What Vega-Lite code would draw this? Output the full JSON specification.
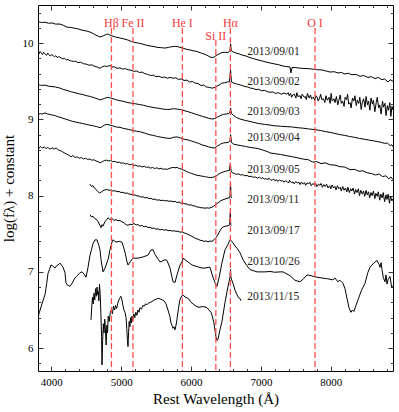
{
"$schema": "https://vega.github.io/schema/vega-lite/v6.json",
"width": 355, "height": 366,
"autosize": "none",
"padding": {"left": 38, "top": 5, "right": 6, "bottom": 41},
"background": "white",
"config": {
 "view": {"stroke": "black", "strokeWidth": 1},
 "font": "Liberation Serif",
 "axis": {"grid": false, "domain": false, "tickColor": "black", "tickWidth": 0.8, "labelColor": "black", "titleColor": "black", "labelFont": "Liberation Serif", "titleFont": "Liberation Serif", "titleFontWeight": "normal", "labelFontSize": 11}
},
"datasets": {
"spec": [
{"s":"0901","x":3810,"y":10.28},{"s":"0901","x":3860,"y":10.27},{"s":"0901","x":3910,"y":10.275},{"s":"0901","x":3960,"y":10.26},{"s":"0901","x":4010,"y":10.265},{"s":"0901","x":4060,"y":10.25},{"s":"0901","x":4125,"y":10.25},{"s":"0901","x":4170,"y":10.235},{"s":"0901","x":4225,"y":10.21},{"s":"0901","x":4280,"y":10.205},{"s":"0901","x":4339,"y":10.195},{"s":"0901","x":4390,"y":10.185},{"s":"0901","x":4440,"y":10.17},{"s":"0901","x":4500,"y":10.16},{"s":"0901","x":4554,"y":10.145},{"s":"0901","x":4600,"y":10.125},{"s":"0901","x":4640,"y":10.105},{"s":"0901","x":4697,"y":10.08},{"s":"0901","x":4730,"y":10.09},{"s":"0901","x":4754,"y":10.1},{"s":"0901","x":4790,"y":10.115},{"s":"0901","x":4812,"y":10.12},{"s":"0901","x":4840,"y":10.105},{"s":"0901","x":4869,"y":10.095},{"s":"0901","x":4920,"y":10.08},{"s":"0901","x":4983,"y":10.067},{"s":"0901","x":5040,"y":10.055},{"s":"0901","x":5098,"y":10.04},{"s":"0901","x":5150,"y":10.02},{"s":"0901","x":5198,"y":10.008},{"s":"0901","x":5250,"y":10.0},{"s":"0901","x":5298,"y":9.99},{"s":"0901","x":5350,"y":9.975},{"s":"0901","x":5413,"y":9.963},{"s":"0901","x":5470,"y":9.955},{"s":"0901","x":5527,"y":9.943},{"s":"0901","x":5580,"y":9.94},{"s":"0901","x":5627,"y":9.935},{"s":"0901","x":5680,"y":9.945},{"s":"0901","x":5720,"y":9.952},{"s":"0901","x":5760,"y":9.957},{"s":"0901","x":5799,"y":9.956},{"s":"0901","x":5840,"y":9.945},{"s":"0901","x":5885,"y":9.935},{"s":"0901","x":5930,"y":9.92},{"s":"0901","x":5985,"y":9.91},{"s":"0901","x":6030,"y":9.9},{"s":"0901","x":6085,"y":9.89},{"s":"0901","x":6140,"y":9.872},{"s":"0901","x":6186,"y":9.857},{"s":"0901","x":6230,"y":9.84},{"s":"0901","x":6271,"y":9.818},{"s":"0901","x":6314,"y":9.81},{"s":"0901","x":6340,"y":9.825},{"s":"0901","x":6371,"y":9.844},{"s":"0901","x":6410,"y":9.862},{"s":"0901","x":6443,"y":9.877},{"s":"0901","x":6490,"y":9.88},{"s":"0901","x":6529,"y":9.877},{"s":"0901","x":6557,"y":9.9},{"s":"0901","x":6566,"y":9.99},{"s":"0901","x":6576,"y":9.9},{"s":"0901","x":6600,"y":9.885},{"s":"0901","x":6643,"y":9.87},{"s":"0901","x":6690,"y":9.858},{"s":"0901","x":6729,"y":9.844},{"s":"0901","x":6790,"y":9.83},{"s":"0901","x":6844,"y":9.81},{"s":"0901","x":6900,"y":9.795},{"s":"0901","x":6958,"y":9.779},{"s":"0901","x":7010,"y":9.768},{"s":"0901","x":7073,"y":9.752},{"s":"0901","x":7130,"y":9.74},{"s":"0901","x":7201,"y":9.726},{"s":"0901","x":7250,"y":9.718},{"s":"0901","x":7316,"y":9.7},{"s":"0901","x":7370,"y":9.692},{"s":"0901","x":7416,"y":9.687},{"s":"0901","x":7430,"y":9.61},{"s":"0901","x":7445,"y":9.68},{"s":"0901","x":7490,"y":9.68},{"s":"0901","x":7531,"y":9.674},{"s":"0901","x":7580,"y":9.67},{"s":"0901","x":7631,"y":9.667},{"s":"0901","x":7700,"y":9.664},{"s":"0901","x":7774,"y":9.654},{"s":"0901","x":7820,"y":9.651},{"s":"0901","x":7874,"y":9.648},{"s":"0901","x":7930,"y":9.635},{"s":"0901","x":7988,"y":9.621},{"s":"0901","x":8050,"y":9.625},{"s":"0901","x":8103,"y":9.608},{"s":"0901","x":8150,"y":9.615},{"s":"0901","x":8203,"y":9.595},{"s":"0901","x":8250,"y":9.605},{"s":"0901","x":8303,"y":9.585},{"s":"0901","x":8360,"y":9.59},{"s":"0901","x":8418,"y":9.565},{"s":"0901","x":8470,"y":9.575},{"s":"0901","x":8532,"y":9.55},{"s":"0901","x":8580,"y":9.56},{"s":"0901","x":8632,"y":9.535},{"s":"0901","x":8680,"y":9.55},{"s":"0901","x":8733,"y":9.52},{"s":"0901","x":8770,"y":9.53},{"s":"0901","x":8818,"y":9.49},{"s":"0901","x":8850,"y":9.52},{"s":"0901","x":8890,"y":9.5},
{"s":"0902","x":3810,"y":9.9},{"s":"0902","x":3825,"y":9.86},{"s":"0902","x":3840,"y":9.89},{"s":"0902","x":3860,"y":9.87},{"s":"0902","x":3875,"y":9.85},{"s":"0902","x":3890,"y":9.88},{"s":"0902","x":3910,"y":9.86},{"s":"0902","x":3930,"y":9.84},{"s":"0902","x":3950,"y":9.87},{"s":"0902","x":3965,"y":9.85},{"s":"0902","x":3985,"y":9.83},{"s":"0902","x":4005,"y":9.85},{"s":"0902","x":4025,"y":9.84},{"s":"0902","x":4045,"y":9.82},{"s":"0902","x":4065,"y":9.835},{"s":"0902","x":4085,"y":9.81},{"s":"0902","x":4105,"y":9.825},{"s":"0902","x":4125,"y":9.815},{"s":"0902","x":4150,"y":9.8},{"s":"0902","x":4170,"y":9.795},{"s":"0902","x":4190,"y":9.8},{"s":"0902","x":4215,"y":9.78},{"s":"0902","x":4240,"y":9.785},{"s":"0902","x":4265,"y":9.77},{"s":"0902","x":4290,"y":9.765},{"s":"0902","x":4320,"y":9.76},{"s":"0902","x":4340,"y":9.765},{"s":"0902","x":4380,"y":9.745},{"s":"0902","x":4420,"y":9.75},{"s":"0902","x":4460,"y":9.73},{"s":"0902","x":4500,"y":9.725},{"s":"0902","x":4540,"y":9.71},{"s":"0902","x":4580,"y":9.715},{"s":"0902","x":4620,"y":9.695},{"s":"0902","x":4660,"y":9.685},{"s":"0902","x":4697,"y":9.67},{"s":"0902","x":4730,"y":9.69},{"s":"0902","x":4760,"y":9.7},{"s":"0902","x":4800,"y":9.695},{"s":"0902","x":4840,"y":9.705},{"s":"0902","x":4869,"y":9.685},{"s":"0902","x":4900,"y":9.69},{"s":"0902","x":4940,"y":9.67},{"s":"0902","x":4983,"y":9.675},{"s":"0902","x":5020,"y":9.66},{"s":"0902","x":5060,"y":9.665},{"s":"0902","x":5100,"y":9.65},{"s":"0902","x":5140,"y":9.645},{"s":"0902","x":5180,"y":9.63},{"s":"0902","x":5220,"y":9.635},{"s":"0902","x":5260,"y":9.615},{"s":"0902","x":5300,"y":9.62},{"s":"0902","x":5340,"y":9.6},{"s":"0902","x":5380,"y":9.59},{"s":"0902","x":5420,"y":9.575},{"s":"0902","x":5460,"y":9.58},{"s":"0902","x":5500,"y":9.56},{"s":"0902","x":5540,"y":9.565},{"s":"0902","x":5580,"y":9.55},{"s":"0902","x":5620,"y":9.555},{"s":"0902","x":5660,"y":9.54},{"s":"0902","x":5700,"y":9.55},{"s":"0902","x":5740,"y":9.54},{"s":"0902","x":5780,"y":9.545},{"s":"0902","x":5820,"y":9.525},{"s":"0902","x":5860,"y":9.53},{"s":"0902","x":5900,"y":9.51},{"s":"0902","x":5940,"y":9.515},{"s":"0902","x":5980,"y":9.49},{"s":"0902","x":6020,"y":9.495},{"s":"0902","x":6060,"y":9.475},{"s":"0902","x":6100,"y":9.47},{"s":"0902","x":6140,"y":9.445},{"s":"0902","x":6180,"y":9.45},{"s":"0902","x":6220,"y":9.425},{"s":"0902","x":6260,"y":9.42},{"s":"0902","x":6300,"y":9.41},{"s":"0902","x":6330,"y":9.415},{"s":"0902","x":6360,"y":9.43},{"s":"0902","x":6400,"y":9.45},{"s":"0902","x":6440,"y":9.475},{"s":"0902","x":6480,"y":9.48},{"s":"0902","x":6520,"y":9.49},{"s":"0902","x":6550,"y":9.495},{"s":"0902","x":6565,"y":9.65},{"s":"0902","x":6578,"y":9.49},{"s":"0902","x":6610,"y":9.475},{"s":"0902","x":6650,"y":9.465},{"s":"0902","x":6690,"y":9.455},{"s":"0902","x":6730,"y":9.445},{"s":"0902","x":6770,"y":9.43},{"s":"0902","x":6810,"y":9.425},{"s":"0902","x":6850,"y":9.41},{"s":"0902","x":6890,"y":9.405},{"s":"0902","x":6930,"y":9.39},{"s":"0902","x":6970,"y":9.395},{"s":"0902","x":7010,"y":9.375},{"s":"0902","x":7050,"y":9.38},{"s":"0902","x":7090,"y":9.365},{"s":"0902","x":7130,"y":9.355},{"s":"0902","x":7170,"y":9.36},{"s":"0902","x":7210,"y":9.34},{"s":"0902","x":7250,"y":9.35},{"s":"0902","x":7290,"y":9.33},{"s":"0902","x":7330,"y":9.345},
{"s":"0902","x":7370,"y":9.33},{"s":"0902","x":7390,"y":9.35},{"s":"0902","x":7405,"y":9.31},{"s":"0902","x":7425,"y":9.34},{"s":"0902","x":7440,"y":9.29},{"s":"0902","x":7455,"y":9.32},{"s":"0902","x":7480,"y":9.33},{"s":"0902","x":7500,"y":9.28},{"s":"0902","x":7515,"y":9.35},{"s":"0902","x":7530,"y":9.3},{"s":"0902","x":7560,"y":9.31},{"s":"0902","x":7575,"y":9.27},{"s":"0902","x":7590,"y":9.33},{"s":"0902","x":7620,"y":9.29},{"s":"0902","x":7635,"y":9.3},{"s":"0902","x":7650,"y":9.26},{"s":"0902","x":7665,"y":9.34},{"s":"0902","x":7690,"y":9.28},{"s":"0902","x":7710,"y":9.32},{"s":"0902","x":7725,"y":9.27},{"s":"0902","x":7750,"y":9.29},{"s":"0902","x":7770,"y":9.25},{"s":"0902","x":7785,"y":9.31},{"s":"0902","x":7800,"y":9.3},{"s":"0902","x":7820,"y":9.24},{"s":"0902","x":7840,"y":9.28},{"s":"0902","x":7855,"y":9.33},{"s":"0902","x":7870,"y":9.26},{"s":"0902","x":7895,"y":9.27},{"s":"0902","x":7915,"y":9.22},{"s":"0902","x":7930,"y":9.31},{"s":"0902","x":7950,"y":9.25},{"s":"0902","x":7975,"y":9.29},{"s":"0902","x":7990,"y":9.21},{"s":"0902","x":8005,"y":9.34},{"s":"0902","x":8020,"y":9.24},{"s":"0902","x":8045,"y":9.27},{"s":"0902","x":8060,"y":9.22},{"s":"0902","x":8080,"y":9.3},{"s":"0902","x":8100,"y":9.19},{"s":"0902","x":8115,"y":9.25},{"s":"0902","x":8135,"y":9.32},{"s":"0902","x":8150,"y":9.21},{"s":"0902","x":8170,"y":9.24},{"s":"0902","x":8190,"y":9.17},{"s":"0902","x":8205,"y":9.29},{"s":"0902","x":8225,"y":9.26},{"s":"0902","x":8240,"y":9.33},{"s":"0902","x":8255,"y":9.2},{"s":"0902","x":8275,"y":9.22},{"s":"0902","x":8290,"y":9.15},{"s":"0902","x":8310,"y":9.28},{"s":"0902","x":8330,"y":9.24},{"s":"0902","x":8345,"y":9.31},{"s":"0902","x":8365,"y":9.18},{"s":"0902","x":8380,"y":9.25},{"s":"0902","x":8400,"y":9.21},{"s":"0902","x":8415,"y":9.29},{"s":"0902","x":8435,"y":9.13},{"s":"0902","x":8450,"y":9.22},{"s":"0902","x":8470,"y":9.27},{"s":"0902","x":8490,"y":9.16},{"s":"0902","x":8505,"y":9.3},{"s":"0902","x":8525,"y":9.19},{"s":"0902","x":8540,"y":9.24},{"s":"0902","x":8560,"y":9.12},{"s":"0902","x":8575,"y":9.28},{"s":"0902","x":8595,"y":9.2},{"s":"0902","x":8610,"y":9.25},{"s":"0902","x":8630,"y":9.1},{"s":"0902","x":8650,"y":9.22},{"s":"0902","x":8665,"y":9.29},{"s":"0902","x":8685,"y":9.15},{"s":"0902","x":8700,"y":9.19},{"s":"0902","x":8720,"y":9.07},{"s":"0902","x":8740,"y":9.24},{"s":"0902","x":8755,"y":9.16},{"s":"0902","x":8775,"y":9.21},{"s":"0902","x":8790,"y":9.05},{"s":"0902","x":8810,"y":9.18},{"s":"0902","x":8825,"y":9.12},{"s":"0902","x":8845,"y":9.22},{"s":"0902","x":8860,"y":9.04},{"s":"0902","x":8875,"y":9.17},{"s":"0902","x":8890,"y":9.12},
{"s":"0903","x":3810,"y":9.455},{"s":"0903","x":3860,"y":9.445},{"s":"0903","x":3910,"y":9.45},{"s":"0903","x":3960,"y":9.435},{"s":"0903","x":4010,"y":9.43},{"s":"0903","x":4060,"y":9.425},{"s":"0903","x":4125,"y":9.41},{"s":"0903","x":4180,"y":9.39},{"s":"0903","x":4225,"y":9.38},{"s":"0903","x":4290,"y":9.36},{"s":"0903","x":4340,"y":9.35},{"s":"0903","x":4400,"y":9.335},{"s":"0903","x":4450,"y":9.325},{"s":"0903","x":4510,"y":9.31},{"s":"0903","x":4560,"y":9.3},{"s":"0903","x":4610,"y":9.285},{"s":"0903","x":4660,"y":9.27},{"s":"0903","x":4697,"y":9.255},{"s":"0903","x":4730,"y":9.265},{"s":"0903","x":4760,"y":9.275},{"s":"0903","x":4800,"y":9.287},{"s":"0903","x":4830,"y":9.285},{"s":"0903","x":4869,"y":9.275},{"s":"0903","x":4920,"y":9.26},{"s":"0903","x":4983,"y":9.245},{"s":"0903","x":5040,"y":9.235},{"s":"0903","x":5098,"y":9.22},{"s":"0903","x":5150,"y":9.212},{"s":"0903","x":5200,"y":9.205},{"s":"0903","x":5260,"y":9.195},{"s":"0903","x":5320,"y":9.185},{"s":"0903","x":5380,"y":9.17},{"s":"0903","x":5440,"y":9.16},{"s":"0903","x":5484,"y":9.152},{"s":"0903","x":5540,"y":9.145},{"s":"0903","x":5600,"y":9.135},{"s":"0903","x":5650,"y":9.13},{"s":"0903","x":5700,"y":9.132},{"s":"0903","x":5750,"y":9.14},{"s":"0903","x":5800,"y":9.135},{"s":"0903","x":5850,"y":9.128},{"s":"0903","x":5900,"y":9.115},{"s":"0903","x":5960,"y":9.1},{"s":"0903","x":6010,"y":9.085},{"s":"0903","x":6060,"y":9.07},{"s":"0903","x":6110,"y":9.055},{"s":"0903","x":6160,"y":9.04},{"s":"0903","x":6200,"y":9.03},{"s":"0903","x":6250,"y":9.015},{"s":"0903","x":6300,"y":9.005},{"s":"0903","x":6340,"y":9.01},{"s":"0903","x":6380,"y":9.03},{"s":"0903","x":6420,"y":9.05},{"s":"0903","x":6460,"y":9.065},{"s":"0903","x":6500,"y":9.07},{"s":"0903","x":6540,"y":9.075},{"s":"0903","x":6558,"y":9.1},{"s":"0903","x":6566,"y":9.15},{"s":"0903","x":6576,"y":9.08},{"s":"0903","x":6610,"y":9.05},{"s":"0903","x":6650,"y":9.025},{"s":"0903","x":6700,"y":9.005},{"s":"0903","x":6760,"y":8.99},{"s":"0903","x":6830,"y":8.975},{"s":"0903","x":6900,"y":8.96},{"s":"0903","x":6970,"y":8.945},{"s":"0903","x":7050,"y":8.935},{"s":"0903","x":7130,"y":8.925},{"s":"0903","x":7200,"y":8.915},{"s":"0903","x":7280,"y":8.91},{"s":"0903","x":7360,"y":8.905},{"s":"0903","x":7450,"y":8.9},{"s":"0903","x":7530,"y":8.89},{"s":"0903","x":7600,"y":8.885},{"s":"0903","x":7680,"y":8.875},{"s":"0903","x":7774,"y":8.865},{"s":"0903","x":7850,"y":8.855},{"s":"0903","x":7920,"y":8.84},{"s":"0903","x":7990,"y":8.83},{"s":"0903","x":8060,"y":8.815},{"s":"0903","x":8130,"y":8.8},{"s":"0903","x":8200,"y":8.79},{"s":"0903","x":8270,"y":8.775},{"s":"0903","x":8340,"y":8.765},{"s":"0903","x":8410,"y":8.75},{"s":"0903","x":8480,"y":8.74},{"s":"0903","x":8540,"y":8.73},{"s":"0903","x":8600,"y":8.72},{"s":"0903","x":8660,"y":8.71},{"s":"0903","x":8720,"y":8.7},{"s":"0903","x":8770,"y":8.685},{"s":"0903","x":8810,"y":8.69},{"s":"0903","x":8850,"y":8.655},{"s":"0903","x":8870,"y":8.67},{"s":"0903","x":8890,"y":8.64},
{"s":"0904","x":3810,"y":9.06},{"s":"0904","x":3840,"y":9.075},{"s":"0904","x":3870,"y":9.07},{"s":"0904","x":3910,"y":9.085},{"s":"0904","x":3950,"y":9.07},{"s":"0904","x":4000,"y":9.06},{"s":"0904","x":4050,"y":9.05},{"s":"0904","x":4096,"y":9.035},{"s":"0904","x":4150,"y":9.02},{"s":"0904","x":4200,"y":9.005},{"s":"0904","x":4250,"y":8.99},{"s":"0904","x":4300,"y":8.975},{"s":"0904","x":4350,"y":8.965},{"s":"0904","x":4400,"y":8.955},{"s":"0904","x":4450,"y":8.945},{"s":"0904","x":4500,"y":8.935},{"s":"0904","x":4550,"y":8.925},{"s":"0904","x":4600,"y":8.915},{"s":"0904","x":4650,"y":8.905},{"s":"0904","x":4697,"y":8.89},{"s":"0904","x":4730,"y":8.905},{"s":"0904","x":4760,"y":8.925},{"s":"0904","x":4800,"y":8.935},{"s":"0904","x":4840,"y":8.925},{"s":"0904","x":4880,"y":8.915},{"s":"0904","x":4930,"y":8.9},{"s":"0904","x":4983,"y":8.895},{"s":"0904","x":5040,"y":8.88},{"s":"0904","x":5100,"y":8.87},{"s":"0904","x":5160,"y":8.855},{"s":"0904","x":5220,"y":8.845},{"s":"0904","x":5280,"y":8.835},{"s":"0904","x":5340,"y":8.82},{"s":"0904","x":5400,"y":8.8},{"s":"0904","x":5460,"y":8.79},{"s":"0904","x":5520,"y":8.775},{"s":"0904","x":5580,"y":8.765},{"s":"0904","x":5640,"y":8.755},{"s":"0904","x":5700,"y":8.75},{"s":"0904","x":5750,"y":8.765},{"s":"0904","x":5800,"y":8.77},{"s":"0904","x":5850,"y":8.755},{"s":"0904","x":5900,"y":8.74},{"s":"0904","x":5957,"y":8.73},{"s":"0904","x":6010,"y":8.715},{"s":"0904","x":6060,"y":8.7},{"s":"0904","x":6110,"y":8.685},{"s":"0904","x":6157,"y":8.665},{"s":"0904","x":6200,"y":8.655},{"s":"0904","x":6250,"y":8.64},{"s":"0904","x":6300,"y":8.628},{"s":"0904","x":6330,"y":8.625},{"s":"0904","x":6370,"y":8.645},{"s":"0904","x":6420,"y":8.675},{"s":"0904","x":6460,"y":8.69},{"s":"0904","x":6500,"y":8.695},{"s":"0904","x":6540,"y":8.7},{"s":"0904","x":6558,"y":8.72},{"s":"0904","x":6566,"y":8.8},{"s":"0904","x":6578,"y":8.7},{"s":"0904","x":6610,"y":8.675},{"s":"0904","x":6658,"y":8.665},{"s":"0904","x":6720,"y":8.655},{"s":"0904","x":6780,"y":8.645},{"s":"0904","x":6860,"y":8.63},{"s":"0904","x":6944,"y":8.62},{"s":"0904","x":7020,"y":8.6},{"s":"0904","x":7100,"y":8.575},{"s":"0904","x":7130,"y":8.56},{"s":"0904","x":7200,"y":8.55},{"s":"0904","x":7280,"y":8.54},{"s":"0904","x":7360,"y":8.525},{"s":"0904","x":7450,"y":8.51},{"s":"0904","x":7530,"y":8.495},{"s":"0904","x":7600,"y":8.48},{"s":"0904","x":7680,"y":8.47},{"s":"0904","x":7740,"y":8.44},{"s":"0904","x":7800,"y":8.445},{"s":"0904","x":7860,"y":8.42},{"s":"0904","x":7920,"y":8.43},{"s":"0904","x":7990,"y":8.405},{"s":"0904","x":8060,"y":8.4},{"s":"0904","x":8130,"y":8.38},{"s":"0904","x":8200,"y":8.375},{"s":"0904","x":8275,"y":8.34},{"s":"0904","x":8340,"y":8.345},{"s":"0904","x":8400,"y":8.32},{"s":"0904","x":8460,"y":8.325},{"s":"0904","x":8520,"y":8.3},{"s":"0904","x":8580,"y":8.29},{"s":"0904","x":8640,"y":8.27},{"s":"0904","x":8690,"y":8.285},{"s":"0904","x":8740,"y":8.25},{"s":"0904","x":8790,"y":8.26},{"s":"0904","x":8830,"y":8.22},{"s":"0904","x":8860,"y":8.245},{"s":"0904","x":8890,"y":8.21},
{"s":"0905","x":3810,"y":8.64},{"s":"0905","x":3825,"y":8.62},{"s":"0905","x":3845,"y":8.645},{"s":"0905","x":3860,"y":8.63},{"s":"0905","x":3880,"y":8.625},{"s":"0905","x":3900,"y":8.64},{"s":"0905","x":3925,"y":8.615},{"s":"0905","x":3950,"y":8.635},{"s":"0905","x":3965,"y":8.62},{"s":"0905","x":3990,"y":8.61},{"s":"0905","x":4010,"y":8.63},{"s":"0905","x":4040,"y":8.61},{"s":"0905","x":4070,"y":8.625},{"s":"0905","x":4100,"y":8.6},{"s":"0905","x":4130,"y":8.59},{"s":"0905","x":4160,"y":8.575},{"s":"0905","x":4190,"y":8.56},{"s":"0905","x":4220,"y":8.545},{"s":"0905","x":4250,"y":8.53},{"s":"0905","x":4280,"y":8.51},{"s":"0905","x":4310,"y":8.525},{"s":"0905","x":4340,"y":8.5},{"s":"0905","x":4370,"y":8.51},{"s":"0905","x":4400,"y":8.49},{"s":"0905","x":4430,"y":8.5},{"s":"0905","x":4460,"y":8.48},{"s":"0905","x":4490,"y":8.49},{"s":"0905","x":4520,"y":8.475},{"s":"0905","x":4550,"y":8.48},{"s":"0905","x":4580,"y":8.465},{"s":"0905","x":4610,"y":8.47},{"s":"0905","x":4640,"y":8.455},{"s":"0905","x":4670,"y":8.445},{"s":"0905","x":4700,"y":8.43},{"s":"0905","x":4730,"y":8.445},{"s":"0905","x":4760,"y":8.46},{"s":"0905","x":4790,"y":8.465},{"s":"0905","x":4820,"y":8.455},{"s":"0905","x":4850,"y":8.46},{"s":"0905","x":4880,"y":8.445},{"s":"0905","x":4910,"y":8.45},{"s":"0905","x":4940,"y":8.435},{"s":"0905","x":4970,"y":8.44},{"s":"0905","x":5000,"y":8.425},{"s":"0905","x":5030,"y":8.43},{"s":"0905","x":5060,"y":8.415},{"s":"0905","x":5090,"y":8.42},{"s":"0905","x":5120,"y":8.405},{"s":"0905","x":5150,"y":8.41},{"s":"0905","x":5180,"y":8.395},{"s":"0905","x":5210,"y":8.4},{"s":"0905","x":5240,"y":8.385},{"s":"0905","x":5270,"y":8.39},{"s":"0905","x":5300,"y":8.375},{"s":"0905","x":5330,"y":8.385},{"s":"0905","x":5360,"y":8.37},{"s":"0905","x":5390,"y":8.375},{"s":"0905","x":5420,"y":8.36},{"s":"0905","x":5450,"y":8.37},{"s":"0905","x":5480,"y":8.355},{"s":"0905","x":5510,"y":8.365},{"s":"0905","x":5540,"y":8.35},{"s":"0905","x":5570,"y":8.36},{"s":"0905","x":5600,"y":8.345},{"s":"0905","x":5630,"y":8.35},{"s":"0905","x":5660,"y":8.345},{"s":"0905","x":5700,"y":8.36},{"s":"0905","x":5740,"y":8.37},{"s":"0905","x":5770,"y":8.365},{"s":"0905","x":5800,"y":8.37},{"s":"0905","x":5830,"y":8.355},{"s":"0905","x":5860,"y":8.35},{"s":"0905","x":5890,"y":8.335},{"s":"0905","x":5920,"y":8.325},{"s":"0905","x":5950,"y":8.31},{"s":"0905","x":5980,"y":8.3},{"s":"0905","x":6010,"y":8.29},{"s":"0905","x":6040,"y":8.28},{"s":"0905","x":6070,"y":8.27},{"s":"0905","x":6100,"y":8.265},{"s":"0905","x":6130,"y":8.26},{"s":"0905","x":6160,"y":8.255},{"s":"0905","x":6190,"y":8.25},{"s":"0905","x":6220,"y":8.245},{"s":"0905","x":6250,"y":8.24},{"s":"0905","x":6280,"y":8.235},{"s":"0905","x":6310,"y":8.24},{"s":"0905","x":6340,"y":8.25},{"s":"0905","x":6370,"y":8.265},{"s":"0905","x":6400,"y":8.285},{"s":"0905","x":6430,"y":8.3},{"s":"0905","x":6460,"y":8.31},{"s":"0905","x":6490,"y":8.32},{"s":"0905","x":6520,"y":8.325},{"s":"0905","x":6550,"y":8.33},{"s":"0905","x":6563,"y":8.43},{"s":"0905","x":6572,"y":8.33},{"s":"0905","x":6590,"y":8.3},{"s":"0905","x":6620,"y":8.29},{"s":"0905","x":6650,"y":8.28},{"s":"0905","x":6680,"y":8.285},{"s":"0905","x":6710,"y":8.27},{"s":"0905","x":6740,"y":8.275},{"s":"0905","x":6770,"y":8.26},{"s":"0905","x":6800,"y":8.265},{"s":"0905","x":6830,"y":8.25},{"s":"0905","x":6860,"y":8.255},{"s":"0905","x":6890,"y":8.24},{"s":"0905","x":6920,"y":8.245},{"s":"0905","x":6950,"y":8.23},{"s":"0905","x":6980,"y":8.24},
{"s":"0905","x":7010,"y":8.225},{"s":"0905","x":7030,"y":8.235},{"s":"0905","x":7050,"y":8.215},{"s":"0905","x":7075,"y":8.225},{"s":"0905","x":7095,"y":8.205},{"s":"0905","x":7110,"y":8.23},{"s":"0905","x":7135,"y":8.21},{"s":"0905","x":7160,"y":8.2},{"s":"0905","x":7180,"y":8.22},{"s":"0905","x":7200,"y":8.195},{"s":"0905","x":7225,"y":8.21},{"s":"0905","x":7240,"y":8.185},{"s":"0905","x":7265,"y":8.205},{"s":"0905","x":7290,"y":8.19},{"s":"0905","x":7310,"y":8.2},{"s":"0905","x":7330,"y":8.175},{"s":"0905","x":7350,"y":8.195},{"s":"0905","x":7375,"y":8.185},{"s":"0905","x":7395,"y":8.165},{"s":"0905","x":7410,"y":8.2},{"s":"0905","x":7435,"y":8.17},{"s":"0905","x":7460,"y":8.18},{"s":"0905","x":7475,"y":8.155},{"s":"0905","x":7500,"y":8.185},{"s":"0905","x":7520,"y":8.165},{"s":"0905","x":7545,"y":8.175},{"s":"0905","x":7560,"y":8.145},{"s":"0905","x":7580,"y":8.18},{"s":"0905","x":7605,"y":8.15},{"s":"0905","x":7625,"y":8.17},{"s":"0905","x":7640,"y":8.135},{"s":"0905","x":7660,"y":8.165},{"s":"0905","x":7685,"y":8.155},{"s":"0905","x":7700,"y":8.175},{"s":"0905","x":7720,"y":8.13},{"s":"0905","x":7745,"y":8.16},{"s":"0905","x":7765,"y":8.14},{"s":"0905","x":7780,"y":8.165},{"s":"0905","x":7800,"y":8.12},{"s":"0905","x":7825,"y":8.15},{"s":"0905","x":7845,"y":8.135},{"s":"0905","x":7860,"y":8.16},{"s":"0905","x":7880,"y":8.11},{"s":"0905","x":7900,"y":8.145},{"s":"0905","x":7920,"y":8.12},{"s":"0905","x":7940,"y":8.15},{"s":"0905","x":7960,"y":8.1},{"s":"0905","x":7985,"y":8.13},{"s":"0905","x":8000,"y":8.09},{"s":"0905","x":8020,"y":8.14},{"s":"0905","x":8040,"y":8.1},{"s":"0905","x":8060,"y":8.12},{"s":"0905","x":8075,"y":8.075},{"s":"0905","x":8095,"y":8.13},{"s":"0905","x":8115,"y":8.09},{"s":"0905","x":8135,"y":8.11},{"s":"0905","x":8150,"y":8.06},{"s":"0905","x":8170,"y":8.12},{"s":"0905","x":8190,"y":8.07},{"s":"0905","x":8210,"y":8.1},{"s":"0905","x":8230,"y":8.05},{"s":"0905","x":8245,"y":8.11},{"s":"0905","x":8265,"y":8.04},{"s":"0905","x":8285,"y":8.09},{"s":"0905","x":8300,"y":8.06},{"s":"0905","x":8320,"y":8.1},{"s":"0905","x":8340,"y":8.02},{"s":"0905","x":8355,"y":8.08},{"s":"0905","x":8375,"y":8.04},{"s":"0905","x":8395,"y":8.09},{"s":"0905","x":8410,"y":8.0},{"s":"0905","x":8430,"y":8.07},{"s":"0905","x":8450,"y":8.02},{"s":"0905","x":8470,"y":8.06},{"s":"0905","x":8485,"y":7.99},{"s":"0905","x":8505,"y":8.07},{"s":"0905","x":8520,"y":8.01},{"s":"0905","x":8540,"y":8.05},{"s":"0905","x":8555,"y":7.97},{"s":"0905","x":8575,"y":8.04},{"s":"0905","x":8590,"y":8.0},{"s":"0905","x":8610,"y":8.06},{"s":"0905","x":8630,"y":7.96},{"s":"0905","x":8645,"y":8.03},{"s":"0905","x":8665,"y":7.99},{"s":"0905","x":8680,"y":8.05},{"s":"0905","x":8700,"y":7.94},{"s":"0905","x":8715,"y":8.02},{"s":"0905","x":8735,"y":7.97},{"s":"0905","x":8750,"y":8.04},{"s":"0905","x":8770,"y":7.92},{"s":"0905","x":8790,"y":8.01},{"s":"0905","x":8805,"y":7.95},{"s":"0905","x":8820,"y":8.02},{"s":"0905","x":8840,"y":7.9},{"s":"0905","x":8855,"y":7.99},{"s":"0905","x":8875,"y":7.93},{"s":"0905","x":8890,"y":7.96},
{"s":"0911","x":4554,"y":8.15},{"s":"0911","x":4575,"y":8.12},{"s":"0911","x":4597,"y":8.13},{"s":"0911","x":4620,"y":8.1},{"s":"0911","x":4645,"y":8.075},{"s":"0911","x":4669,"y":8.05},{"s":"0911","x":4690,"y":8.035},{"s":"0911","x":4712,"y":8.045},{"s":"0911","x":4740,"y":8.065},{"s":"0911","x":4769,"y":8.075},{"s":"0911","x":4797,"y":8.08},{"s":"0911","x":4826,"y":8.07},{"s":"0911","x":4855,"y":8.075},{"s":"0911","x":4883,"y":8.06},{"s":"0911","x":4912,"y":8.065},{"s":"0911","x":4940,"y":8.05},{"s":"0911","x":4969,"y":8.055},{"s":"0911","x":4998,"y":8.04},{"s":"0911","x":5026,"y":8.045},{"s":"0911","x":5055,"y":8.03},{"s":"0911","x":5084,"y":8.035},{"s":"0911","x":5112,"y":8.02},{"s":"0911","x":5141,"y":8.02},{"s":"0911","x":5169,"y":8.005},{"s":"0911","x":5198,"y":8.01},{"s":"0911","x":5227,"y":7.995},{"s":"0911","x":5255,"y":7.995},{"s":"0911","x":5284,"y":7.98},{"s":"0911","x":5313,"y":7.985},{"s":"0911","x":5341,"y":7.97},{"s":"0911","x":5370,"y":7.975},{"s":"0911","x":5400,"y":7.96},{"s":"0911","x":5427,"y":7.965},{"s":"0911","x":5456,"y":7.95},{"s":"0911","x":5484,"y":7.955},{"s":"0911","x":5513,"y":7.94},{"s":"0911","x":5541,"y":7.945},{"s":"0911","x":5570,"y":7.935},{"s":"0911","x":5598,"y":7.94},{"s":"0911","x":5627,"y":7.93},{"s":"0911","x":5656,"y":7.935},{"s":"0911","x":5684,"y":7.925},{"s":"0911","x":5713,"y":7.93},{"s":"0911","x":5742,"y":7.92},{"s":"0911","x":5770,"y":7.925},{"s":"0911","x":5799,"y":7.91},{"s":"0911","x":5828,"y":7.915},{"s":"0911","x":5857,"y":7.9},{"s":"0911","x":5885,"y":7.905},{"s":"0911","x":5914,"y":7.89},{"s":"0911","x":5942,"y":7.89},{"s":"0911","x":5971,"y":7.875},{"s":"0911","x":6000,"y":7.88},{"s":"0911","x":6028,"y":7.865},{"s":"0911","x":6057,"y":7.865},{"s":"0911","x":6085,"y":7.85},{"s":"0911","x":6114,"y":7.85},{"s":"0911","x":6143,"y":7.84},{"s":"0911","x":6171,"y":7.84},{"s":"0911","x":6200,"y":7.835},{"s":"0911","x":6229,"y":7.84},{"s":"0911","x":6257,"y":7.835},{"s":"0911","x":6286,"y":7.845},{"s":"0911","x":6314,"y":7.855},{"s":"0911","x":6343,"y":7.875},{"s":"0911","x":6371,"y":7.895},{"s":"0911","x":6400,"y":7.915},{"s":"0911","x":6429,"y":7.935},{"s":"0911","x":6457,"y":7.945},{"s":"0911","x":6486,"y":7.955},{"s":"0911","x":6515,"y":7.965},{"s":"0911","x":6543,"y":7.97},{"s":"0911","x":6557,"y":7.975},{"s":"0911","x":6565,"y":8.18},{"s":"0911","x":6572,"y":7.985},{"s":"0911","x":6586,"y":7.97},
{"s":"0917","x":4554,"y":7.75},{"s":"0917","x":4575,"y":7.72},{"s":"0917","x":4597,"y":7.73},{"s":"0917","x":4620,"y":7.7},{"s":"0917","x":4645,"y":7.69},{"s":"0917","x":4669,"y":7.66},{"s":"0917","x":4697,"y":7.61},{"s":"0917","x":4712,"y":7.58},{"s":"0917","x":4726,"y":7.62},{"s":"0917","x":4740,"y":7.6},{"s":"0917","x":4769,"y":7.66},{"s":"0917","x":4797,"y":7.69},{"s":"0917","x":4812,"y":7.71},{"s":"0917","x":4840,"y":7.685},{"s":"0917","x":4869,"y":7.7},{"s":"0917","x":4898,"y":7.675},{"s":"0917","x":4926,"y":7.685},{"s":"0917","x":4955,"y":7.67},{"s":"0917","x":4983,"y":7.675},{"s":"0917","x":5012,"y":7.655},{"s":"0917","x":5041,"y":7.645},{"s":"0917","x":5069,"y":7.62},{"s":"0917","x":5098,"y":7.61},{"s":"0917","x":5127,"y":7.625},{"s":"0917","x":5155,"y":7.62},{"s":"0917","x":5184,"y":7.635},{"s":"0917","x":5213,"y":7.615},{"s":"0917","x":5241,"y":7.62},{"s":"0917","x":5270,"y":7.6},{"s":"0917","x":5298,"y":7.61},{"s":"0917","x":5327,"y":7.59},{"s":"0917","x":5356,"y":7.6},{"s":"0917","x":5384,"y":7.58},{"s":"0917","x":5413,"y":7.585},{"s":"0917","x":5441,"y":7.57},{"s":"0917","x":5470,"y":7.575},{"s":"0917","x":5498,"y":7.56},{"s":"0917","x":5527,"y":7.565},{"s":"0917","x":5556,"y":7.55},{"s":"0917","x":5584,"y":7.56},{"s":"0917","x":5613,"y":7.545},{"s":"0917","x":5642,"y":7.555},{"s":"0917","x":5670,"y":7.54},{"s":"0917","x":5699,"y":7.545},{"s":"0917","x":5727,"y":7.535},{"s":"0917","x":5756,"y":7.54},{"s":"0917","x":5785,"y":7.53},{"s":"0917","x":5813,"y":7.535},{"s":"0917","x":5842,"y":7.52},{"s":"0917","x":5871,"y":7.525},{"s":"0917","x":5899,"y":7.51},{"s":"0917","x":5928,"y":7.505},{"s":"0917","x":5957,"y":7.49},{"s":"0917","x":5985,"y":7.48},{"s":"0917","x":6014,"y":7.465},{"s":"0917","x":6043,"y":7.45},{"s":"0917","x":6071,"y":7.435},{"s":"0917","x":6100,"y":7.43},{"s":"0917","x":6128,"y":7.415},{"s":"0917","x":6157,"y":7.41},{"s":"0917","x":6186,"y":7.4},{"s":"0917","x":6214,"y":7.405},{"s":"0917","x":6243,"y":7.395},{"s":"0917","x":6271,"y":7.405},{"s":"0917","x":6300,"y":7.4},{"s":"0917","x":6328,"y":7.42},{"s":"0917","x":6357,"y":7.45},{"s":"0917","x":6386,"y":7.49},{"s":"0917","x":6414,"y":7.54},{"s":"0917","x":6443,"y":7.58},{"s":"0917","x":6471,"y":7.595},{"s":"0917","x":6500,"y":7.6},{"s":"0917","x":6529,"y":7.605},{"s":"0917","x":6552,"y":7.615},{"s":"0917","x":6562,"y":7.785},{"s":"0917","x":6568,"y":7.62},{"s":"0917","x":6580,"y":7.61},
{"s":"1026","x":3810,"y":6.4},{"s":"1026","x":3830,"y":6.47},{"s":"1026","x":3853,"y":6.54},{"s":"1026","x":3880,"y":6.62},{"s":"1026","x":3910,"y":6.7},{"s":"1026","x":3935,"y":6.85},{"s":"1026","x":3953,"y":6.98},{"s":"1026","x":3975,"y":7.03},{"s":"1026","x":3996,"y":7.09},{"s":"1026","x":4020,"y":7.08},{"s":"1026","x":4040,"y":7.06},{"s":"1026","x":4053,"y":7.05},{"s":"1026","x":4075,"y":7.08},{"s":"1026","x":4096,"y":7.09},{"s":"1026","x":4110,"y":7.1},{"s":"1026","x":4125,"y":7.115},{"s":"1026","x":4145,"y":7.09},{"s":"1026","x":4168,"y":7.06},{"s":"1026","x":4196,"y":6.99},{"s":"1026","x":4210,"y":6.86},{"s":"1026","x":4225,"y":6.83},{"s":"1026","x":4250,"y":6.82},{"s":"1026","x":4268,"y":6.81},{"s":"1026","x":4290,"y":6.84},{"s":"1026","x":4315,"y":6.88},{"s":"1026","x":4339,"y":6.92},{"s":"1026","x":4360,"y":6.94},{"s":"1026","x":4382,"y":6.96},{"s":"1026","x":4411,"y":6.99},{"s":"1026","x":4440,"y":7.0},{"s":"1026","x":4470,"y":6.97},{"s":"1026","x":4497,"y":6.93},{"s":"1026","x":4526,"y":7.06},{"s":"1026","x":4554,"y":7.22},{"s":"1026","x":4575,"y":7.29},{"s":"1026","x":4597,"y":7.37},{"s":"1026","x":4626,"y":7.42},{"s":"1026","x":4654,"y":7.42},{"s":"1026","x":4680,"y":7.35},{"s":"1026","x":4697,"y":7.29},{"s":"1026","x":4712,"y":7.16},{"s":"1026","x":4740,"y":7.0},{"s":"1026","x":4769,"y":7.05},{"s":"1026","x":4812,"y":7.16},{"s":"1026","x":4840,"y":7.29},{"s":"1026","x":4869,"y":7.39},{"s":"1026","x":4883,"y":7.42},{"s":"1026","x":4926,"y":7.39},{"s":"1026","x":4970,"y":7.4},{"s":"1026","x":5012,"y":7.39},{"s":"1026","x":5055,"y":7.26},{"s":"1026","x":5084,"y":7.13},{"s":"1026","x":5098,"y":7.09},{"s":"1026","x":5127,"y":7.13},{"s":"1026","x":5169,"y":7.18},{"s":"1026","x":5241,"y":7.18},{"s":"1026","x":5313,"y":7.196},{"s":"1026","x":5384,"y":7.22},{"s":"1026","x":5427,"y":7.287},{"s":"1026","x":5456,"y":7.29},{"s":"1026","x":5484,"y":7.23},{"s":"1026","x":5527,"y":7.17},{"s":"1026","x":5556,"y":7.13},{"s":"1026","x":5584,"y":7.14},{"s":"1026","x":5627,"y":7.16},{"s":"1026","x":5656,"y":7.15},{"s":"1026","x":5699,"y":7.05},{"s":"1026","x":5742,"y":6.87},{"s":"1026","x":5770,"y":6.86},{"s":"1026","x":5799,"y":6.96},{"s":"1026","x":5842,"y":7.09},{"s":"1026","x":5871,"y":7.13},{"s":"1026","x":5885,"y":7.18},{"s":"1026","x":5914,"y":7.16},{"s":"1026","x":5957,"y":7.13},{"s":"1026","x":6014,"y":7.09},{"s":"1026","x":6085,"y":7.07},{"s":"1026","x":6157,"y":7.05},{"s":"1026","x":6200,"y":7.05},{"s":"1026","x":6243,"y":7.06},{"s":"1026","x":6271,"y":7.06},{"s":"1026","x":6314,"y":6.93},{"s":"1026","x":6343,"y":6.86},{"s":"1026","x":6357,"y":6.82},{"s":"1026","x":6371,"y":6.81},{"s":"1026","x":6400,"y":6.92},{"s":"1026","x":6443,"y":7.12},{"s":"1026","x":6486,"y":7.29},{"s":"1026","x":6529,"y":7.36},{"s":"1026","x":6557,"y":7.42},{"s":"1026","x":6586,"y":7.4},{"s":"1026","x":6629,"y":7.34},{"s":"1026","x":6658,"y":7.31},{"s":"1026","x":6701,"y":7.25},{"s":"1026","x":6744,"y":7.16},{"s":"1026","x":6800,"y":7.08},{"s":"1026","x":6844,"y":7.03},{"s":"1026","x":6944,"y":7.0},{"s":"1026","x":7058,"y":7.0},{"s":"1026","x":7130,"y":7.005},{"s":"1026","x":7200,"y":6.995},{"s":"1026","x":7273,"y":7.0},{"s":"1026","x":7316,"y":7.0},{"s":"1026","x":7416,"y":6.95},{"s":"1026","x":7488,"y":6.89},{"s":"1026","x":7559,"y":6.87},{"s":"1026","x":7610,"y":6.91},{"s":"1026","x":7660,"y":6.96},{"s":"1026","x":7720,"y":6.95},{"s":"1026","x":7774,"y":6.935},{"s":"1026","x":7874,"y":6.92},{"s":"1026","x":7950,"y":6.91},{"s":"1026","x":8031,"y":6.895},{"s":"1026","x":8060,"y":6.92},{"s":"1026","x":8100,"y":6.87},{"s":"1026","x":8131,"y":6.89},{"s":"1026","x":8174,"y":6.85},{"s":"1026","x":8203,"y":6.78},{"s":"1026","x":8230,"y":6.66},{"s":"1026","x":8260,"y":6.53},{"s":"1026","x":8289,"y":6.47},{"s":"1026","x":8310,"y":6.5},{"s":"1026","x":8330,"y":6.48},{"s":"1026","x":8360,"y":6.56},{"s":"1026","x":8400,"y":6.66},{"s":"1026","x":8440,"y":6.76},{"s":"1026","x":8489,"y":6.85},{"s":"1026","x":8530,"y":6.99},{"s":"1026","x":8560,"y":7.06},{"s":"1026","x":8589,"y":7.09},{"s":"1026","x":8620,"y":7.12},{"s":"1026","x":8661,"y":7.15},{"s":"1026","x":8690,"y":7.1},{"s":"1026","x":8704,"y":7.06},{"s":"1026","x":8720,"y":7.12},{"s":"1026","x":8733,"y":7.03},{"s":"1026","x":8750,"y":6.93},{"s":"1026","x":8775,"y":6.87},{"s":"1026","x":8790,"y":6.96},{"s":"1026","x":8804,"y":6.84},{"s":"1026","x":8820,"y":6.9},{"s":"1026","x":8847,"y":6.94},{"s":"1026","x":8870,"y":6.8},{"s":"1026","x":8890,"y":6.82},
{"s":"1115","x":4568,"y":6.37},{"s":"1115","x":4580,"y":6.55},{"s":"1115","x":4590,"y":6.67},{"s":"1115","x":4600,"y":6.58},{"s":"1115","x":4612,"y":6.72},{"s":"1115","x":4622,"y":6.63},{"s":"1115","x":4634,"y":6.78},{"s":"1115","x":4645,"y":6.68},{"s":"1115","x":4655,"y":6.8},{"s":"1115","x":4665,"y":6.7},{"s":"1115","x":4672,"y":6.74},{"s":"1115","x":4680,"y":6.62},{"s":"1115","x":4690,"y":6.84},{"s":"1115","x":4700,"y":6.7},{"s":"1115","x":4710,"y":6.45},{"s":"1115","x":4720,"y":6.15},{"s":"1115","x":4726,"y":5.78},{"s":"1115","x":4735,"y":6.1},{"s":"1115","x":4745,"y":6.32},{"s":"1115","x":4755,"y":6.2},{"s":"1115","x":4765,"y":6.38},{"s":"1115","x":4775,"y":6.24},{"s":"1115","x":4785,"y":6.04},{"s":"1115","x":4795,"y":6.3},{"s":"1115","x":4805,"y":6.2},{"s":"1115","x":4815,"y":6.42},{"s":"1115","x":4830,"y":6.35},{"s":"1115","x":4845,"y":6.47},{"s":"1115","x":4860,"y":6.5},{"s":"1115","x":4875,"y":6.45},{"s":"1115","x":4890,"y":6.55},{"s":"1115","x":4905,"y":6.5},{"s":"1115","x":4920,"y":6.56},{"s":"1115","x":4935,"y":6.52},{"s":"1115","x":4955,"y":6.6},{"s":"1115","x":4975,"y":6.65},{"s":"1115","x":4995,"y":6.68},{"s":"1115","x":5010,"y":6.64},{"s":"1115","x":5025,"y":6.56},{"s":"1115","x":5040,"y":6.5},{"s":"1115","x":5055,"y":6.47},{"s":"1115","x":5070,"y":6.4},{"s":"1115","x":5080,"y":6.26},{"s":"1115","x":5090,"y":6.1},{"s":"1115","x":5098,"y":6.02},{"s":"1115","x":5106,"y":6.2},{"s":"1115","x":5115,"y":6.35},{"s":"1115","x":5125,"y":6.28},{"s":"1115","x":5135,"y":6.4},{"s":"1115","x":5145,"y":6.33},{"s":"1115","x":5155,"y":6.42},{"s":"1115","x":5165,"y":6.36},{"s":"1115","x":5180,"y":6.45},{"s":"1115","x":5195,"y":6.4},{"s":"1115","x":5210,"y":6.47},{"s":"1115","x":5225,"y":6.43},{"s":"1115","x":5240,"y":6.5},{"s":"1115","x":5255,"y":6.47},{"s":"1115","x":5270,"y":6.53},{"s":"1115","x":5290,"y":6.51},{"s":"1115","x":5310,"y":6.56},{"s":"1115","x":5330,"y":6.55},{"s":"1115","x":5350,"y":6.58},{"s":"1115","x":5370,"y":6.57},{"s":"1115","x":5390,"y":6.59},{"s":"1115","x":5413,"y":6.6},{"s":"1115","x":5440,"y":6.61},{"s":"1115","x":5470,"y":6.63},{"s":"1115","x":5500,"y":6.64},{"s":"1115","x":5527,"y":6.655},{"s":"1115","x":5556,"y":6.645},{"s":"1115","x":5584,"y":6.635},{"s":"1115","x":5613,"y":6.62},{"s":"1115","x":5642,"y":6.58},{"s":"1115","x":5670,"y":6.5},{"s":"1115","x":5699,"y":6.41},{"s":"1115","x":5713,"y":6.33},{"s":"1115","x":5727,"y":6.3},{"s":"1115","x":5742,"y":6.26},{"s":"1115","x":5756,"y":6.28},{"s":"1115","x":5770,"y":6.24},{"s":"1115","x":5785,"y":6.3},{"s":"1115","x":5799,"y":6.38},{"s":"1115","x":5820,"y":6.52},{"s":"1115","x":5842,"y":6.64},{"s":"1115","x":5871,"y":6.69},{"s":"1115","x":5885,"y":6.7},{"s":"1115","x":5914,"y":6.67},{"s":"1115","x":5942,"y":6.66},{"s":"1115","x":5971,"y":6.64},{"s":"1115","x":6000,"y":6.6},{"s":"1115","x":6028,"y":6.58},{"s":"1115","x":6057,"y":6.56},{"s":"1115","x":6085,"y":6.545},{"s":"1115","x":6114,"y":6.535},{"s":"1115","x":6143,"y":6.54},{"s":"1115","x":6171,"y":6.545},{"s":"1115","x":6200,"y":6.54},{"s":"1115","x":6229,"y":6.53},{"s":"1115","x":6257,"y":6.5},{"s":"1115","x":6286,"y":6.47},{"s":"1115","x":6300,"y":6.43},{"s":"1115","x":6328,"y":6.33},{"s":"1115","x":6343,"y":6.23},{"s":"1115","x":6357,"y":6.15},{"s":"1115","x":6371,"y":6.1},{"s":"1115","x":6386,"y":6.12},{"s":"1115","x":6414,"y":6.24},{"s":"1115","x":6443,"y":6.35},{"s":"1115","x":6486,"y":6.6},{"s":"1115","x":6515,"y":6.74},{"s":"1115","x":6543,"y":6.87},{"s":"1115","x":6557,"y":6.92},{"s":"1115","x":6565,"y":7.03},{"s":"1115","x":6572,"y":6.92},{"s":"1115","x":6600,"y":6.85},{"s":"1115","x":6629,"y":6.76},{"s":"1115","x":6658,"y":6.7},{"s":"1115","x":6680,"y":6.66},{"s":"1115","x":6701,"y":6.65},{"s":"1115","x":6715,"y":6.62}
],
"lines": [
{"t":"Hβ","x":4861,"top":10.2,"bot":5.7,"ly":10.264},
{"t":"Fe II","x":5169,"top":10.2,"bot":5.7,"ly":10.264},
{"t":"He I","x":5876,"top":10.2,"bot":5.7,"ly":10.264},
{"t":"Si II","x":6355,"top":10.04,"bot":5.7,"ly":10.09},
{"t":"Hα","x":6563,"top":10.2,"bot":5.7,"ly":10.264},
{"t":"O I","x":7774,"top":10.2,"bot":5.7,"ly":10.264}
],
"dates": [
{"t":"2013/09/01","x":6805,"y":9.884},
{"t":"2013/09/02","x":6805,"y":9.49},
{"t":"2013/09/03","x":6805,"y":9.097},
{"t":"2013/09/04","x":6805,"y":8.756},
{"t":"2013/09/05","x":6805,"y":8.336},
{"t":"2013/09/11","x":6805,"y":7.943},
{"t":"2013/09/17","x":6805,"y":7.536},
{"t":"2013/10/26","x":6805,"y":7.129},
{"t":"2013/11/15","x":6805,"y":6.67}
]
},
"layer": [
{
 "data": {"name": "spec"},
 "mark": {"type": "line", "color": "black", "strokeWidth": 1, "clip": true},
 "encoding": {
  "x": {"field": "x", "type": "quantitative", "scale": {"domain": [3810, 8890], "nice": false, "zero": false},
   "axis": {"orient": "bottom", "values": [4000, 5000, 6000, 7000, 8000], "format": "d", "ticks": false, "labelPadding": 5, "title": "Rest Wavelength (Å)", "titleFontSize": 15, "titlePadding": 4}},
  "y": {"field": "y", "type": "quantitative", "scale": {"domain": [5.7, 10.5], "nice": false, "zero": false},
   "axis": {"orient": "left", "values": [6, 7, 8, 9, 10], "format": "d", "ticks": false, "labelPadding": 5, "title": "log(fλ) + constant", "titleFontSize": 15, "titlePadding": 6}},
  "detail": {"field": "s"}
 }
},
{
 "data": {"name": "lines"},
 "mark": {"type": "rule", "color": "#ff4d4d", "strokeWidth": 1.3, "strokeDash": [6, 3]},
 "encoding": {
  "x": {"field": "x", "type": "quantitative", "scale": {"domain": [3810, 8890], "nice": false, "zero": false},
   "axis": {"orient": "bottom", "labels": false, "title": null, "values": [4000,4200,4400,4600,4800,5000,5200,5400,5600,5800,6000,6200,6400,6600,6800,7000,7200,7400,7600,7800,8000,8200,8400,8600,8800],
    "tickSize": {"condition": {"test": "datum.value % 1000 === 0", "value": -5}, "value": -2.5}}},
  "y": {"field": "top", "type": "quantitative", "scale": {"domain": [5.7, 10.5], "nice": false, "zero": false},
   "axis": {"orient": "left", "labels": false, "title": null, "values": [5.8,6,6.2,6.4,6.6,6.8,7,7.2,7.4,7.6,7.8,8,8.2,8.4,8.6,8.8,9,9.2,9.4,9.6,9.8,10,10.2,10.4],
    "tickSize": {"condition": {"test": "abs(datum.value - round(datum.value)) < 0.001", "value": -5}, "value": -2.5}}},
  "y2": {"field": "bot"}
 }
},
{
 "data": {"name": "dates"},
 "mark": {"type": "text", "align": "left", "baseline": "middle", "fontSize": 11.5, "color": "#222222", "font": "Liberation Serif"},
 "encoding": {
  "x": {"field": "x", "type": "quantitative", "scale": {"domain": [3810, 8890], "nice": false, "zero": false},
   "axis": {"orient": "top", "labels": false, "title": null, "values": [4000,4200,4400,4600,4800,5000,5200,5400,5600,5800,6000,6200,6400,6600,6800,7000,7200,7400,7600,7800,8000,8200,8400,8600,8800],
    "tickSize": {"condition": {"test": "datum.value % 1000 === 0", "value": -5}, "value": -2.5}}},
  "y": {"field": "y", "type": "quantitative", "scale": {"domain": [5.7, 10.5], "nice": false, "zero": false},
   "axis": {"orient": "right", "labels": false, "title": null, "values": [5.8,6,6.2,6.4,6.6,6.8,7,7.2,7.4,7.6,7.8,8,8.2,8.4,8.6,8.8,9,9.2,9.4,9.6,9.8,10,10.2,10.4],
    "tickSize": {"condition": {"test": "abs(datum.value - round(datum.value)) < 0.001", "value": -5}, "value": -2.5}}},
  "text": {"field": "t"}
 }
},
{
 "data": {"name": "lines"},
 "mark": {"type": "text", "align": "center", "baseline": "middle", "fontSize": 12, "color": "#f03a3a", "font": "Liberation Serif"},
 "encoding": {
  "x": {"field": "x", "type": "quantitative", "scale": {"domain": [3810, 8890], "nice": false, "zero": false}, "axis": null},
  "y": {"field": "ly", "type": "quantitative", "scale": {"domain": [5.7, 10.5], "nice": false, "zero": false}, "axis": null},
  "text": {"field": "t"}
 }
}
],
"resolve": {"axis": {"x": "independent", "y": "independent"}}
}
